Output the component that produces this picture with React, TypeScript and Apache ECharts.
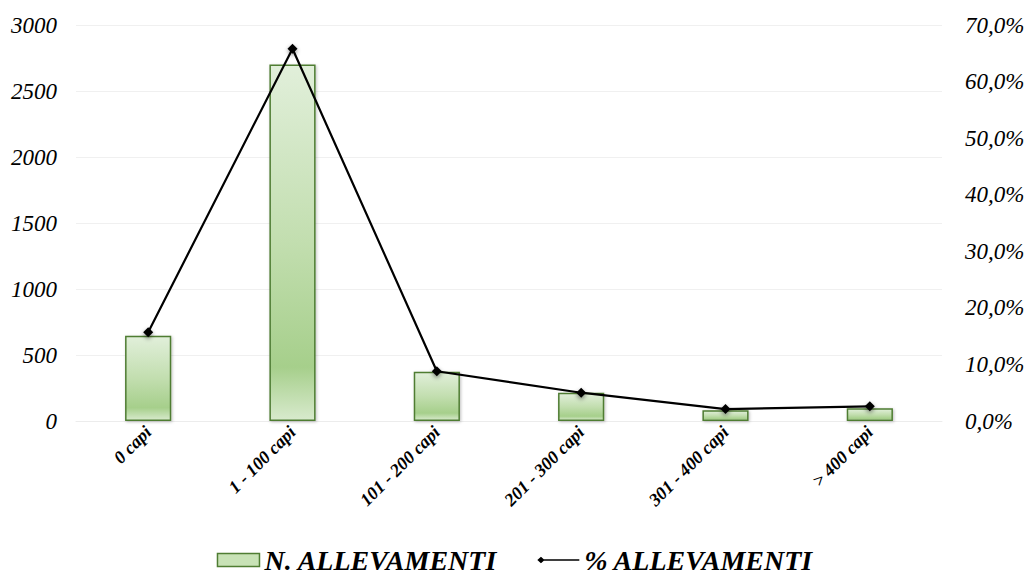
import React, { useEffect, useRef } from "react";
import * as echarts from "echarts";

// Farm-size classes
const categories = ["0 capi", "1 - 100 capi", "101 - 200 capi", "201 - 300 capi", "301 - 400 capi", "> 400 capi"];
// Number of farms per class
const farmCounts = [645, 2700, 373, 214, 81, 96];
// Share of farms per class (%)
const farmShares = [15.7, 65.8, 8.8, 5.0, 2.1, 2.6];

const leftTicks = { min: 0, max: 3000, interval: 500 };
const rightTicks = { min: 0, max: 70, interval: 10 };

const SERIF = "Liberation Serif";

export default function App() {
  const ref = useRef<HTMLDivElement>(null);

  useEffect(() => {
    if (!ref.current) return;
    const chart = echarts.init(ref.current, undefined, { renderer: "svg" });

    const barFill = new echarts.graphic.LinearGradient(0, 0, 0, 1, [
      { offset: 0, color: "#e1efda" },
      { offset: 0.5, color: "#c2deaf" },
      { offset: 0.85, color: "#a6cf8b" },
      { offset: 1, color: "#d8eacd" },
    ]);

    chart.setOption({
      animation: false,
      backgroundColor: "#ffffff",
      grid: { left: 76, right: 88, top: 25, bottom: 153, containLabel: false },
      legend: {
        top: 541,
        left: "center",
        itemGap: 40,
        textStyle: {
          fontFamily: SERIF,
          fontStyle: "italic",
          fontWeight: "bold",
          fontSize: 28,
          color: "#000",
        },
        data: [
          {
            name: "N. ALLEVAMENTI",
            icon: "rect",
            itemStyle: {
              color: "#c8e2b6",
              borderColor: "#4f7d33",
              borderWidth: 1.5,
            },
          },
          {
            name: "% ALLEVAMENTI",
            icon: "path://M0,5 L4,1.5 L8,5 L4,8.5 Z M4,4.3 L46,4.3 L46,5.7 L4,5.7 Z",
            itemStyle: { color: "#000" },
          },
        ],
        itemWidth: 42,
        itemHeight: 13,
      },
      xAxis: {
        type: "category",
        data: categories,
        axisLine: { lineStyle: { color: "#ececec", width: 1 } },
        axisTick: { show: false },
        axisLabel: {
          rotate: 45,
          margin: 8,
          interval: 0,
          fontFamily: SERIF,
          fontStyle: "italic",
          fontWeight: "bold",
          fontSize: 18,
          color: "#000",
        },
      },
      yAxis: [
        {
          type: "value",
          ...leftTicks,
          axisLine: { show: false },
          axisTick: { show: false },
          splitLine: { lineStyle: { color: "#f0f0f0", width: 1 } },
          axisLabel: {
            margin: 19,
            fontFamily: SERIF,
            fontStyle: "italic",
            fontSize: 23,
            color: "#000",
            formatter: (v: number) => String(v),
          },
        },
        {
          type: "value",
          ...rightTicks,
          axisLine: { show: false },
          axisTick: { show: false },
          splitLine: { show: false },
          axisLabel: {
            margin: 23,
            fontFamily: SERIF,
            fontStyle: "italic",
            fontSize: 23,
            color: "#000",
            formatter: (v: number) => v.toFixed(1).replace(".", ",") + "%",
          },
        },
      ],
      series: [
        {
          name: "N. ALLEVAMENTI",
          type: "bar",
          yAxisIndex: 0,
          data: farmCounts,
          barWidth: "32%",
          itemStyle: {
            color: barFill,
            borderColor: "#4f7d33",
            borderWidth: 1.5,
            shadowColor: "rgba(0,0,0,0.25)",
            shadowBlur: 3,
            shadowOffsetX: 1,
            shadowOffsetY: 1,
          },
        },
        {
          name: "% ALLEVAMENTI",
          type: "line",
          yAxisIndex: 1,
          data: farmShares,
          symbol: "diamond",
          symbolSize: 10,
          lineStyle: { color: "#000", width: 2.2 },
          itemStyle: {
            color: "#000",
            shadowColor: "rgba(0,0,0,0.45)",
            shadowBlur: 4,
            shadowOffsetY: 2,
          },
          z: 3,
        },
      ],
    });

    return () => chart.dispose();
  }, []);

  return (
    <div
      ref={ref}
      style={{ position: "fixed", left: 0, top: 0, width: 1030, height: 574, background: "#fff" }}
    />
  );
}
